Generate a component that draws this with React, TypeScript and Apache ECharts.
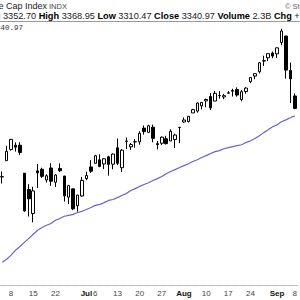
import React, { useEffect, useRef } from "react";
import * as echarts from "echarts";

const dates = [
  "2020-06-04","2020-06-05","2020-06-08","2020-06-09","2020-06-10","2020-06-11","2020-06-12",
  "2020-06-15","2020-06-16","2020-06-17","2020-06-18","2020-06-19","2020-06-22","2020-06-23",
  "2020-06-24","2020-06-25","2020-06-26","2020-06-29","2020-06-30",
  "2020-07-01","2020-07-02","2020-07-06","2020-07-07","2020-07-08","2020-07-09","2020-07-10",
  "2020-07-13","2020-07-14","2020-07-15","2020-07-16","2020-07-17","2020-07-20","2020-07-21",
  "2020-07-22","2020-07-23","2020-07-24","2020-07-27","2020-07-28","2020-07-29","2020-07-30","2020-07-31",
  "2020-08-03","2020-08-04","2020-08-05","2020-08-06","2020-08-07","2020-08-10","2020-08-11",
  "2020-08-12","2020-08-13","2020-08-14","2020-08-17","2020-08-18","2020-08-19","2020-08-20",
  "2020-08-21","2020-08-24","2020-08-25","2020-08-26","2020-08-27","2020-08-28","2020-08-31",
  "2020-09-01","2020-09-02","2020-09-03","2020-09-04","2020-09-08"
];

const opens = [
  3111.56,3163.84,3199.92,3213.32,3213.42,3123.53,3071.04,
  2993.76,3131.00,3136.13,3101.64,3140.29,3094.42,3138.70,
  3114.40,3046.60,3073.20,3018.59,3050.20,
  3105.92,3143.64,3155.29,3166.44,3153.07,3176.17,3152.47,
  3205.08,3141.11,3225.98,3208.36,3224.21,3224.29,3268.52,
  3254.86,3271.64,3218.58,3219.84,3234.27,3227.22,3231.76,3270.45,
  3288.26,3289.92,3317.37,3323.17,3340.05,3356.04,3370.34,
  3355.46,3372.95,3368.66,3380.86,3387.04,3392.51,3360.48,
  3386.01,3418.09,3435.95,3449.97,3485.14,3494.69,3509.73,
  3507.44,3543.76,3564.74,3453.60,3371.88
];
const highs = [
  3128.91,3211.72,3233.13,3222.71,3223.27,3123.53,3088.42,
  3079.76,3153.45,3141.16,3120.00,3155.53,3120.92,3154.90,
  3115.01,3086.25,3073.73,3053.89,3111.51,
  3128.44,3165.81,3182.59,3184.15,3171.80,3179.78,3186.82,
  3235.32,3200.95,3238.28,3220.39,3233.52,3258.61,3277.29,
  3279.32,3279.99,3227.26,3241.43,3243.72,3264.74,3250.92,3272.17,
  3302.73,3306.84,3330.77,3351.03,3352.54,3363.29,3381.01,
  3387.89,3387.24,3378.51,3387.59,3395.06,3399.54,3390.80,
  3399.96,3432.09,3444.21,3481.07,3501.38,3509.23,3514.77,
  3528.03,3588.11,3564.85,3479.15,3379.97
];
const lows = [
  3090.41,3163.84,3196.00,3193.11,3181.49,2999.49,2984.47,
  2965.66,3076.06,3108.03,3093.51,3083.11,3079.39,3127.12,
  3032.13,3024.01,3004.63,2999.74,3047.83,
  3101.17,3124.52,3155.29,3142.93,3136.53,3115.70,3136.22,
  3149.43,3127.66,3200.76,3198.59,3205.65,3215.16,3247.77,
  3253.10,3222.66,3200.05,3214.25,3216.17,3227.22,3204.13,3220.26,
  3284.53,3286.37,3317.37,3318.14,3328.72,3335.44,3326.44,
  3355.46,3363.35,3361.64,3379.22,3370.15,3369.66,3354.69,
  3379.31,3413.13,3425.84,3444.15,3468.35,3484.32,3493.25,
  3494.60,3535.23,3427.41,3349.63,3329.27
];
const closes = [
  3112.35,3193.93,3232.39,3207.18,3190.14,3002.10,3041.31,
  3066.59,3124.74,3113.49,3115.34,3097.74,3117.86,3131.29,
  3050.33,3083.76,3009.05,3053.24,3100.29,
  3115.86,3130.01,3179.72,3145.32,3169.94,3152.05,3185.04,
  3155.22,3197.52,3226.56,3215.57,3224.73,3251.84,3257.30,
  3276.02,3235.66,3215.63,3239.41,3218.44,3258.44,3246.22,3271.12,
  3294.61,3306.51,3327.77,3349.16,3351.28,3360.47,3333.69,
  3380.35,3373.43,3372.85,3381.99,3389.78,3374.85,3385.51,
  3397.16,3431.28,3443.62,3478.73,3484.55,3508.01,3500.31,
  3526.65,3580.84,3455.06,3426.96,3331.84
];

const ma50 = [
  2837,2847,2860,2876,2888,2901,2914,2927,2940,2949,2956,2962,2972,2978,2985,2988,2991,2997,3001,
  3007,3013,3020,3023,3029,3036,3039,3045,3052,3058,3068,3074,3081,3087,3093,3100,3106,3113,3122,
  3129,3135,3142,3148,3154,3161,3167,3174,3180,3187,3193,3196,3202,3206,3209,3212,3215,3222,3228,
  3235,3244,3254,3263,3273,3279,3289,3295,3302,3308
];

const tickLabels: Record<string, string> = {
  "2020-06-08": "8", "2020-06-15": "15", "2020-06-22": "22",
  "2020-07-01": "{b|Jul}", "2020-07-06": "6", "2020-07-13": "13", "2020-07-20": "20", "2020-07-27": "27",
  "2020-08-03": "{b|Aug}", "2020-08-10": "10", "2020-08-17": "17", "2020-08-24": "24",
  "2020-09-01": "{b|Sep}", "2020-09-08": "8"
};

const headerLine =
  "{b|Open} 3352.70 {b|High} 3368.95 {b|Low} 3310.47 {b|Close} 3340.97 {b|Volume} 2.3B {b|Chg} +1.78 (+0.05%)";

const FONT = "Liberation Sans, Arial, sans-serif";

export default function App() {
  const ref = useRef<HTMLDivElement>(null);
  useEffect(() => {
    if (!ref.current) return;
    const chart = echarts.init(ref.current, undefined, { renderer: "svg" });
    const candles = dates.map((_, i) => [opens[i], closes[i], lows[i], highs[i]]);
    const graphics: any[] = [
      {
        type: "text", x: 47, y: 6,
        style: { text: "S&P 500 Large Cap Index", fill: "#222", fontSize: 9, fontFamily: FONT, textAlign: "right", textVerticalAlign: "middle" }
      },
      {
        type: "text", x: 49, y: 6.5,
        style: { text: "INDX", fill: "#444", fontSize: 7.5, fontFamily: FONT, textAlign: "left", textVerticalAlign: "middle" }
      },
      {
        type: "text", x: 285, y: 6,
        style: { text: "© StockCharts.com", fill: "#666", fontSize: 7.5, fontFamily: FONT, textAlign: "left", textVerticalAlign: "middle" }
      },
      {
        type: "text", x: 23, y: 28,
        style: { text: "$SPX 3340.97", fill: "#333", fontSize: 7.5, fontFamily: "Liberation Mono, monospace", textAlign: "right", textVerticalAlign: "middle" }
      },
      {
        type: "line", shape: { x1: 0, y1: 21.5, x2: 300, y2: 21.5 },
        style: { stroke: "#9a9a9a", lineWidth: 1 }
      },
      {
        type: "text", x: -23.1, y: 15.5,
        style: {
          text: headerLine, fill: "#222", fontSize: 9.2, fontFamily: FONT,
          textAlign: "left", textVerticalAlign: "middle",
          rich: { b: { fontWeight: "bold", fill: "#000", fontSize: 9.2, fontFamily: FONT } }
        }
      }
    ];
    chart.setOption({
      animation: false,
      backgroundColor: "#ffffff",
      grid: { left: 0, right: 0, top: 0, bottom: 15, containLabel: false },
      xAxis: {
        type: "category",
        data: dates,
        boundaryGap: true,
        axisLine: { show: true, lineStyle: { color: "#b0b0b0", type: "dotted", width: 1 } },
        axisTick: { show: false },
        splitLine: { show: false },
        axisLabel: {
          interval: (_idx: number, val: string) => val in tickLabels,
          formatter: (val: string) => tickLabels[val] || "",
          fontSize: 8, color: "#444", fontFamily: FONT, margin: 4,
          rich: { b: { fontWeight: "bold", color: "#111", fontSize: 8, fontFamily: FONT } }
        }
      },
      yAxis: {
        type: "value", min: 2764, max: 3680.5, show: false, splitLine: { show: false }, scale: true
      },
      series: [
        {
          type: "candlestick",
          data: candles,
          barWidth: 3,
          itemStyle: { color: "#ffffff", color0: "#000000", borderColor: "#000000", borderColor0: "#000000", borderWidth: 1 }
        },
        {
          type: "line",
          data: ma50,
          showSymbol: false,
          symbol: "none",
          lineStyle: { color: "#6464cc", width: 1.2 },
          z: 1
        }
      ],
      graphic: graphics
    });
    return () => chart.dispose();
  }, []);
  return <div ref={ref} style={{ position: "fixed", left: 0, top: 0, width: 300, height: 300, background: "#fff" }} />;
}
